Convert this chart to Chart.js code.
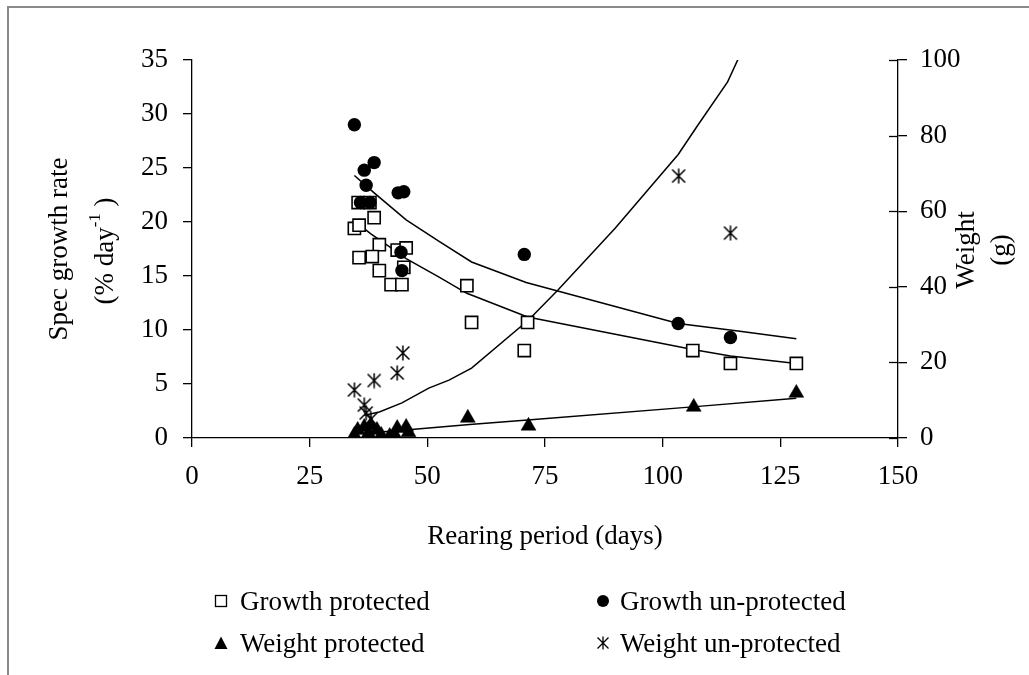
<!DOCTYPE html>
<html><head><meta charset="utf-8">
<script src="https://cdn.jsdelivr.net/npm/chart.js@4.4.1/dist/chart.umd.min.js"></script>
<style>
html,body{margin:0;padding:0;background:#fff;}
#wrap{position:relative;width:1029px;height:675px;overflow:hidden;background:#fff;}
#frame{position:absolute;left:7px;top:6px;width:1200px;height:900px;border-left:2px solid #8a8a8a;border-top:2px solid #8a8a8a;}
#c{position:absolute;left:0;top:0;}
.leg{position:absolute;height:34px;font-family:"Liberation Serif","Times New Roman",serif;font-size:27px;line-height:34px;color:#000;white-space:nowrap;}
.leg canvas{position:absolute;top:9px;}
.leg span{position:absolute;top:0;}
</style>
</head><body>
<div id="wrap">
<div id="frame"></div>
<canvas id="c" width="1029" height="675"></canvas>
</div>
<script>
// ---- data ----
const xTickValues = [0, 25, 50, 75, 100, 125, 150];
const yLeftTicks = [0, 5, 10, 15, 20, 25, 30, 35];
const yRightTicks = [0, 20, 40, 60, 80, 100];

const growthProtectedDays = [34.5, 35.5, 35.3, 37.8, 38.7, 39.8, 35.5, 38.3, 39.8, 43.6, 45.5, 45.0, 42.3, 44.6, 58.4, 59.4, 71.3, 70.6, 106.4, 114.4, 128.4];
const growthProtectedRate = [19.4, 19.7, 21.8, 21.8, 20.4, 17.9, 16.7, 16.8, 15.5, 17.4, 17.6, 15.8, 14.2, 14.2, 14.1, 10.7, 10.7, 8.1, 8.1, 6.9, 6.9];

const growthUnprotectedDays = [34.5, 38.7, 36.6, 37.0, 43.8, 45.0, 35.8, 37.8, 44.4, 44.6, 70.6, 103.3, 114.4];
const growthUnprotectedRate = [29.0, 25.5, 24.8, 23.4, 22.7, 22.8, 21.8, 21.8, 17.2, 15.5, 17.0, 10.6, 9.3];

const weightProtectedDays = [34.5, 35.2, 36.6, 37.5, 38.0, 39.3, 40.2, 42.0, 43.2, 43.6, 45.5, 46.0, 58.6, 71.5, 106.6, 128.4];
const weightProtectedWeight = [0.8, 2.1, 2.9, 1.2, 3.4, 2.1, 0.8, 0.5, 0.6, 2.6, 2.9, 1.5, 5.3, 3.2, 8.2, 11.9];

const weightUnprotectedDays = [34.5, 36.6, 37.0, 38.0, 38.7, 43.6, 44.8, 103.4, 114.4];
const weightUnprotectedWeight = [12.7, 8.7, 6.6, 5.0, 15.2, 17.2, 22.5, 69.3, 54.2];

// trend lines (as drawn in the reference)
const gpTrendDays = [34.5, 38.0, 42.0, 45.5, 52.5, 58.4, 71.3, 106.4, 114.4, 128.4];
const gpTrendRate = [20.1, 18.9, 17.7, 16.6, 14.9, 13.4, 11.2, 8.2, 7.6, 6.9];
const guTrendDays = [34.5, 38.7, 45.5, 52.5, 59.4, 71.0, 103.3, 116.0, 128.4];
const guTrendRate = [24.3, 22.7, 20.2, 18.2, 16.3, 14.4, 10.6, 9.9, 9.2];
const wpTrendDays = [36.0, 46.0, 59.0, 72.0, 107.0, 128.4];
const wpTrendWeight = [1.2, 2.2, 3.6, 4.8, 8.3, 10.5];
const wuTrendDays = [36.6, 39.8, 44.6, 50.3, 54.6, 59.4, 71.5, 77.8, 89.9, 103.3, 107.5, 113.8, 116.6];
const wuTrendWeight = [6.0, 6.9, 9.3, 13.2, 15.3, 18.5, 31.2, 39.2, 55.5, 75.0, 82.8, 94.2, 101.8];

const seriesLabels = ['Growth protected', 'Growth un-protected', 'Weight protected', 'Weight un-protected'];

// ---- helpers ----
const FONT = "'Liberation Serif', 'Times New Roman', serif";
const pts = (xs, ys) => xs.map((x, i) => ({x: x, y: ys[i]}));

function asterisk(size, lw) {
  const c = document.createElement('canvas');
  c.width = size; c.height = size;
  const g = c.getContext('2d');
  g.strokeStyle = '#000'; g.lineWidth = lw;
  const h = size / 2, d = size / 2 - 1.5;
  g.beginPath();
  g.moveTo(h - d, h - d); g.lineTo(h + d, h + d);
  g.moveTo(h + d, h - d); g.lineTo(h - d, h + d);
  g.moveTo(h, 0.5); g.lineTo(h, size - 0.5);
  g.stroke();
  return c;
}

const lineDs = (xs, ys, axis) => ({
  type: 'line', data: pts(xs, ys), yAxisID: axis, showLine: true,
  borderColor: '#000', borderWidth: 1.5, pointRadius: 0, tension: 0, fill: false
});

const RIGHT_X = 898, TOP_Y = 60, BOTTOM_Y = 438, LEFT_X = 192;

const extras = {
  id: 'extras',
  afterDraw(chart) {
    const ctx = chart.ctx;
    const y2 = chart.scales.y2;
    ctx.save();
    // crossing ticks on the right axis (inner half)
    ctx.strokeStyle = '#000'; ctx.lineWidth = 1.3;
    yRightTicks.forEach(v => {
      const p = Math.round(y2.getPixelForValue(v)) + 0.5;
      ctx.beginPath(); ctx.moveTo(y2.left - 9, p); ctx.lineTo(y2.left, p); ctx.stroke();
    });
    ctx.fillStyle = '#000';
    ctx.textAlign = 'center'; ctx.textBaseline = 'middle';
    const mid = (chart.chartArea.top + chart.chartArea.bottom) / 2;
    function rot(x, y, fn) { ctx.save(); ctx.translate(x, y); ctx.rotate(-Math.PI / 2); fn(); ctx.restore(); }
    ctx.font = '27px ' + FONT;
    rot(60, mid, () => ctx.fillText('Spec growth rate', 0, 0));
    rot(106, mid + 2, () => {
      const a = '(% day', s = '-1', b = ' )';
      ctx.font = '27px ' + FONT; const wa = ctx.measureText(a).width, wb = ctx.measureText(b).width;
      ctx.font = '17px ' + FONT; const ws = ctx.measureText(s).width;
      let x = -(wa + ws + wb) / 2;
      ctx.textAlign = 'left';
      ctx.font = '27px ' + FONT; ctx.fillText(a, x, 0); x += wa;
      ctx.font = '17px ' + FONT; ctx.fillText(s, x, -10); x += ws;
      ctx.font = '27px ' + FONT; ctx.fillText(b, x, 0);
    });
    ctx.textAlign = 'center';
    ctx.font = '27px ' + FONT;
    rot(967, mid + 1, () => ctx.fillText('Weight', 0, 0));
    rot(1002, mid + 1, () => ctx.fillText('(g)', 0, 0));
    ctx.restore();
  }
};

const ctx = document.getElementById('c').getContext('2d');
const chart = new Chart(ctx, {
  type: 'scatter',
  data: {
    datasets: [
      {label: seriesLabels[1], data: pts(growthUnprotectedDays, growthUnprotectedRate), yAxisID: 'y',
       pointStyle: 'circle', pointRadius: 6.7, backgroundColor: '#000', borderColor: '#000', borderWidth: 0},
      {label: seriesLabels[0], data: pts(growthProtectedDays, growthProtectedRate), yAxisID: 'y',
       pointStyle: 'rect', pointRadius: 8.6, backgroundColor: '#fff', borderColor: '#000', borderWidth: 1.6},
      {label: seriesLabels[2], data: pts(weightProtectedDays, weightProtectedWeight), yAxisID: 'y2',
       pointStyle: 'triangle', pointRadius: 8.6, backgroundColor: '#000', borderColor: '#000', borderWidth: 0.5},
      {label: seriesLabels[3], data: pts(weightUnprotectedDays, weightUnprotectedWeight), yAxisID: 'y2',
       pointStyle: asterisk(16, 1.5), pointRadius: 8, backgroundColor: '#000', borderColor: '#000'},
      lineDs(gpTrendDays, gpTrendRate, 'y'),
      lineDs(guTrendDays, guTrendRate, 'y'),
      lineDs(wpTrendDays, wpTrendWeight, 'y2'),
      lineDs(wuTrendDays, wuTrendWeight, 'y2')
    ]
  },
  options: {
    responsive: false, animation: false, events: [],
    layout: {padding: {left: 0, right: 0, top: TOP_Y, bottom: 675 - 553}},
    plugins: {legend: {display: false}, tooltip: {enabled: false}},
    scales: {
      x: {
        type: 'linear', position: 'bottom', min: 0, max: 150,
        afterBuildTicks: s => { s.ticks = xTickValues.map(v => ({value: v})); },
        ticks: {font: {family: FONT, size: 27}, color: '#000', padding: 14, maxRotation: 0, autoSkip: false},
        grid: {drawOnChartArea: false, tickLength: 9, color: '#000', lineWidth: 1.3},
        border: {color: '#000', width: 1.3},
        title: {display: true, text: 'Rearing period (days)', color: '#000', font: {family: FONT, size: 27}, padding: 0},
        afterFit: s => { s.height = 553 - BOTTOM_Y; }
      },
      y: {
        type: 'linear', position: 'left', min: 0, max: 35,
        afterBuildTicks: s => { s.ticks = yLeftTicks.map(v => ({value: v})); },
        ticks: {font: {family: FONT, size: 27}, color: '#000', padding: 15, autoSkip: false},
        grid: {drawOnChartArea: false, tickLength: 9, color: '#000', lineWidth: 1.3},
        border: {color: '#000', width: 1.3},
        afterFit: s => { s.width = LEFT_X; }
      },
      y2: {
        type: 'linear', position: 'right', min: 0, max: 100,
        afterBuildTicks: s => { s.ticks = yRightTicks.map(v => ({value: v})); },
        ticks: {font: {family: FONT, size: 27}, color: '#000', padding: 13, autoSkip: false},
        grid: {drawOnChartArea: false, tickLength: 9, color: '#000', lineWidth: 1.3},
        border: {color: '#000', width: 1.3},
        afterFit: s => { s.width = 1029 - RIGHT_X; }
      }
    }
  },
  plugins: [extras]
});

// ---- HTML legend (two columns) ----
function marker(kind) {
  const c = document.createElement('canvas');
  c.width = 16; c.height = 16;
  const g = c.getContext('2d');
  g.fillStyle = '#000'; g.strokeStyle = '#000'; g.lineWidth = 1.3;
  if (kind === 0) { g.strokeRect(2.5, 2.5, 11, 11); }
  else if (kind === 1) { g.beginPath(); g.arc(8, 8, 6, 0, Math.PI * 2); g.fill(); }
  else if (kind === 2) { g.beginPath(); g.moveTo(8, 1.5); g.lineTo(14.5, 14); g.lineTo(1.5, 14); g.closePath(); g.fill(); }
  else { g.drawImage(asterisk(14, 1.3), 1, 1); }
  return c;
}
const legendPos = [
  {kind: 0, mx: 221, tx: 240, cy: 601},
  {kind: 1, mx: 603, tx: 620, cy: 601},
  {kind: 2, mx: 221, tx: 240, cy: 643},
  {kind: 3, mx: 603, tx: 620, cy: 643}
];
const wrap = document.getElementById('wrap');
legendPos.forEach(p => {
  const d = document.createElement('div');
  d.className = 'leg';
  d.style.left = (p.mx - 8) + 'px';
  d.style.top = (p.cy - 17) + 'px';
  const m = marker(p.kind);
  m.style.left = '0px';
  const t = document.createElement('span');
  t.textContent = seriesLabels[p.kind];
  t.style.left = (p.tx - p.mx + 8) + 'px';
  d.appendChild(m); d.appendChild(t);
  wrap.appendChild(d);
});
</script>
</body></html>
